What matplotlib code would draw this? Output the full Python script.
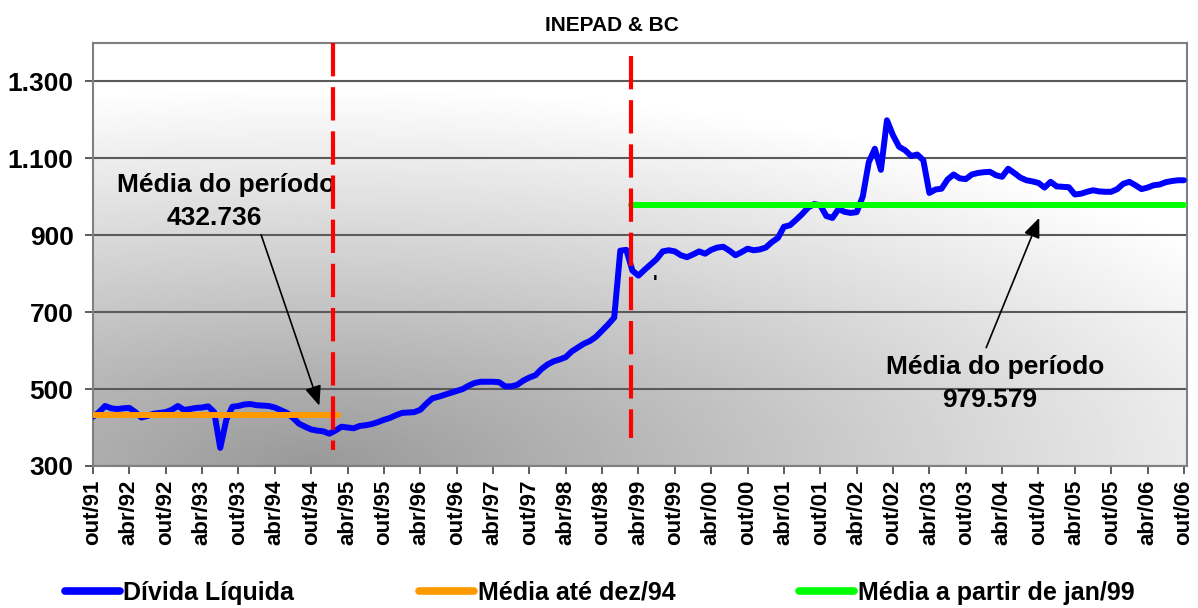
import numpy as np
import matplotlib
matplotlib.use("Agg")
import matplotlib.pyplot as plt
from matplotlib.lines import Line2D

plt.rcParams['font.family'] = ['Liberation Sans', 'DejaVu Sans']
plt.rcParams['font.weight'] = 'bold'

# monthly values, out/91 .. out/06
divida = [
    428, 440, 456, 450, 448, 450, 451, 440, 426, 430, 436, 438,   # out/91-set/92
    440, 446, 456, 446, 448, 451, 452, 455, 440, 347, 420, 454,   # out/92-set/93
    456, 460, 461, 458, 457, 456, 452, 445, 438, 425, 410, 402,   # out/93-set/94
    395, 392, 390, 384, 392, 402, 400, 398, 404, 406, 409, 414,   # out/94-set/95
    420, 425, 432, 438, 439, 440, 446, 462, 476, 480, 485, 490,   # out/95-set/96
    495, 500, 509, 516, 519, 519, 519, 518, 507, 507, 511, 522,   # out/96-set/97
    530, 536, 552, 564, 572, 577, 583, 598, 608, 618, 625, 636,   # out/97-set/98
    652, 668, 686, 860, 862, 808, 795, 810, 824, 838, 858, 861,   # out/98-set/99
    858, 848, 843, 850, 858, 852, 862, 868, 870, 860, 848, 856,   # out/99-set/00
    865, 861, 863, 868, 882, 893, 922, 926, 940, 955, 972, 981,   # out/00-set/01
    978, 950, 945, 968, 961, 958, 960, 1000, 1090, 1125, 1070, 1199,  # out/01-set/02
    1160, 1130, 1121, 1106, 1110, 1095, 1010, 1019, 1021, 1045, 1058, 1048,  # out/02-set/03
    1046, 1058, 1062, 1064, 1065, 1056, 1052, 1073, 1062, 1050, 1043, 1040,  # out/03-set/04
    1036, 1024, 1039, 1027, 1026, 1025, 1006, 1008, 1013, 1017, 1014, 1013,  # out/04-set/05
    1013, 1020, 1034, 1039, 1030, 1020, 1024, 1030, 1032, 1038, 1041, 1043,  # out/05-set/06
    1043,                                                             # out/06
]
meses = np.arange(len(divida))

media_ate_94 = 432.736
media_desde_99 = 979.579
orange_x = [0, 40.5]
green_x = [88.8, 180]
corte1_x = [39.6, 39.6]
corte1_y = [1400, 342]
corte2_x = [88.8, 88.8]
corte2_y = [1367, 373]

tick_labels = ['out/91', 'abr/92', 'out/92', 'abr/93', 'out/93', 'abr/94', 'out/94',
               'abr/95', 'out/95', 'abr/96', 'out/96', 'abr/97', 'out/97', 'abr/98',
               'out/98', 'abr/99', 'out/99', 'abr/00', 'out/00', 'abr/01', 'out/01',
               'abr/02', 'out/02', 'abr/03', 'out/03', 'abr/04', 'out/04', 'abr/05',
               'out/05', 'abr/06', 'out/06']
yticks = [300, 500, 700, 900, 1100, 1300]
ytick_labels = ['300', '500', '700', '900', '1.100', '1.300']

fig = plt.figure(figsize=(11.98, 6.08), dpi=100)
ax = fig.add_axes([0.0776, 0.2336, 0.9132, 0.6957])

# gradient background (dark lower-left to white upper-right)
gx, gy = np.meshgrid(np.linspace(0, 1, 300), np.linspace(0, 1, 200))
dist = np.sqrt(((gx - 0.2) / 1.0) ** 2 + (gy / 0.9) ** 2)
grad = 0.6 + 0.4 * np.clip(dist, 0, 1)
ax.imshow(grad, extent=[0, 1, 0, 1], origin='lower', transform=ax.transAxes,
          aspect='auto', cmap='gray', vmin=0, vmax=1, zorder=0)

ax.set_axisbelow(True)
ax.grid(axis='y', color='#5a5a5a', lw=1.5)

ax.plot(meses, divida, color='#0000ff', lw=4.3, solid_joinstyle='round',
        solid_capstyle='round', zorder=3)
ax.plot(orange_x, [media_ate_94] * 2, color='#ff9900', lw=4.3, solid_capstyle='round', zorder=4)
ax.plot(green_x, [media_desde_99] * 2, color='#00ff00', lw=4.3, solid_capstyle='round', zorder=4)
ax.plot(corte1_x, corte1_y, color='#ff0000', lw=3, ls=(0, (8, 2.6)), zorder=5)
ax.plot(corte2_x, corte2_y, color='#ff0000', lw=3, ls=(0, (8, 2.6)), zorder=5)

ax.set_xlim(0, 180.5)
ax.set_ylim(300, 1400)
ax.set_yticks(yticks)
ax.set_yticklabels(ytick_labels, fontsize=19, fontweight='bold')
ax.set_xticks(np.arange(0, 181, 6))
ax.set_xticklabels(tick_labels, rotation=90, fontsize=16, fontweight='bold')
ax.tick_params(axis='both', length=6, width=1.2, color='#404040')
ax.tick_params(axis='x', pad=4)
ax.tick_params(axis='y', pad=8)
for s in ax.spines.values():
    s.set_color('#808080')
    s.set_linewidth(1.5)

# annotations
ax.text(22, 1030, 'Média do período', ha='center', va='center', fontsize=19, fontweight='bold')
ax.text(20, 944, '432.736', ha='center', va='center', fontsize=19, fontweight='bold')
ax.annotate('', xy=(37.5, 450), xytext=(27.6, 908),
            arrowprops=dict(arrowstyle='-|>,head_length=1.2,head_width=0.5', color='black', lw=1.2))
ax.text(148.8, 557, 'Média do período', ha='center', va='center', fontsize=19, fontweight='bold')
ax.text(148, 471, '979.579', ha='center', va='center', fontsize=19, fontweight='bold')
ax.annotate('', xy=(156.3, 952), xytext=(147.2, 601),
            arrowprops=dict(arrowstyle='-|>,head_length=1.2,head_width=0.5', color='black', lw=1.2))
ax.text(92.7, 775, "'", ha='center', va='center', fontsize=14, fontweight='bold')

fig.text(0.511, 0.958, 'INEPAD & BC', ha='center', va='center', fontsize=15, fontweight='bold')

# legend, three entries spread across the bottom
entries = [('Dívida Líquida', '#0000ff', 0.054),
           ('Média até dez/94', '#ff9900', 0.35),
           ('Média a partir de jan/99', '#00ff00', 0.667)]
for label, col, xpos in entries:
    h = Line2D([], [], color=col, lw=5.5, solid_capstyle='round')
    fig.legend(handles=[h], labels=[label], loc='center left', bbox_to_anchor=(xpos, 0.025),
               frameon=False, handlelength=2.2, handletextpad=0.15, borderpad=0, borderaxespad=0,
               prop={'size': 18, 'weight': 'bold'})

fig.savefig('out.png', dpi=100)
